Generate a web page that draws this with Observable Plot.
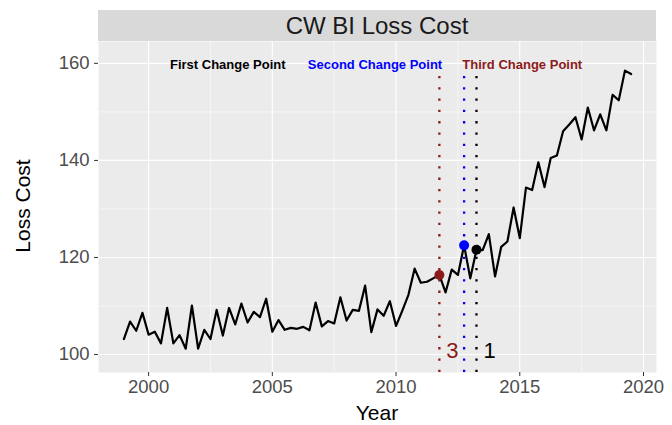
<!DOCTYPE html>
<html><head><meta charset="utf-8">
<script src="https://cdn.jsdelivr.net/npm/d3@7"></script>
<script src="https://cdn.jsdelivr.net/npm/@observablehq/plot@0.6"></script>
<style>
body{margin:0;background:#fff;font-family:"Liberation Sans",Arial,sans-serif;}
#strip{position:absolute;left:98px;top:10px;width:558px;height:31px;background:#d9d9d9;color:#1a1a1a;font-size:24px;line-height:31px;text-align:center;}
#chart{position:absolute;left:0;top:41px;}
.ttl{position:absolute;font-size:21px;color:#000;white-space:nowrap;line-height:1;}
#ylab{left:22px;top:206px;transform:translate(-50%,-50%) rotate(-90deg);}
#xlab{left:377px;top:412px;transform:translate(-50%,-50%);}
</style></head><body>
<div id="strip">CW BI Loss Cost</div>
<div id="chart"></div>
<div class="ttl" id="ylab">Loss Cost</div>
<div class="ttl" id="xlab">Year</div>
<script>
const years = [
 1999, 1999.25, 1999.5, 1999.75, 2000, 2000.25, 2000.5, 2000.75,
 2001, 2001.25, 2001.5, 2001.75, 2002, 2002.25, 2002.5, 2002.75,
 2003, 2003.25, 2003.5, 2003.75, 2004, 2004.25, 2004.5, 2004.75,
 2005, 2005.25, 2005.5, 2005.75, 2006, 2006.25, 2006.5, 2006.75,
 2007, 2007.25, 2007.5, 2007.75, 2008, 2008.25, 2008.5, 2008.75,
 2009, 2009.25, 2009.5, 2009.75, 2010, 2010.25, 2010.5, 2010.75,
 2011, 2011.25, 2011.5, 2011.75, 2012, 2012.25, 2012.5, 2012.75,
 2013, 2013.25, 2013.5, 2013.75, 2014, 2014.25, 2014.5, 2014.75,
 2015, 2015.25, 2015.5, 2015.75, 2016, 2016.25, 2016.5, 2016.75,
 2017, 2017.25, 2017.5, 2017.75, 2018, 2018.25, 2018.5, 2018.75,
 2019, 2019.25, 2019.5
];
const lossCost = [
 103.2, 106.8, 104.9, 108.6, 104.1, 104.7, 102.3, 109.6,
 102.3, 104.0, 101.2, 110.1, 101.2, 105.1, 103.2, 109.2,
 103.9, 109.6, 106.2, 110.5, 106.6, 108.8, 107.7, 111.5,
 104.7, 107.1, 105.1, 105.5, 105.3, 105.7, 105.0, 110.7,
 105.8, 106.9, 106.4, 111.8, 107.0, 109.2, 109.0, 114.2,
 104.6, 109.3, 108.0, 111.0, 105.9, 109.0, 112.3, 117.7,
 114.8, 115.0, 115.7, 116.4, 112.8, 117.5, 116.4, 122.5,
 115.7, 121.6, 121.5, 124.8, 116.1, 122.2, 123.3, 130.3,
 124.0, 134.4, 133.9, 139.6, 134.5, 140.5, 141.0, 146.0,
 147.4, 148.9, 144.3, 150.9, 146.2, 149.5, 146.2, 153.5,
 152.4, 158.5, 157.8
];
const cpYears = [2013.25, 2012.75, 2011.75];
const cpValues = [121.6, 122.5, 116.4];
const cpColors = ["black", "blue", "#8B1A1A"];
const cpNumbers = ["1", "", "3"];
const cpNames = ["First Change Point", "Second Change Point", "Third Change Point"];
const cpNameX = [2003.2, 2009.15, 2015.1];
const cpNameY = 159.7;
const xTicks = [2000, 2005, 2010, 2015, 2020];
const xMinor = [1997.5, 2002.5, 2007.5, 2012.5, 2017.5];
const yTicks = [100, 120, 140, 160];
const yMinor = [110, 130, 150];
const yDomain = [96.3, 164.5];
const xDomain = [1997.975, 2020.525];

const series = years.map((y, i) => ({year: y, value: lossCost[i]}));
const cps = cpYears.map((y, i) => ({year: y, value: cpValues[i], color: cpColors[i], num: cpNumbers[i], name: cpNames[i], nx: cpNameX[i]}));

const font = "Liberation Sans, Arial, sans-serif";
const plot = Plot.plot({
  width: 672, height: 384,
  marginTop: 0, marginLeft: 98, marginRight: 16, marginBottom: 53,
  style: {fontFamily: font, background: "white", overflow: "visible"},
  x: {domain: xDomain},
  y: {domain: yDomain},
  color: {type: "identity"},
  marks: [
    Plot.frame({fill: "#ebebeb", stroke: null}),
    Plot.ruleY(yMinor, {stroke: "white", strokeWidth: 0.55}),
    Plot.ruleX(xMinor, {stroke: "white", strokeWidth: 0.55}),
    Plot.ruleY(yTicks, {stroke: "white", strokeWidth: 1.1}),
    Plot.ruleX(xTicks, {stroke: "white", strokeWidth: 1.1}),
    Plot.ruleX(cps, {x: "year", y1: yDomain[0], y2: 158, stroke: "color", strokeWidth: 2.3, strokeDasharray: "2.3,9"}),
    Plot.line(series, {x: "year", y: "value", stroke: "black", strokeWidth: 2.2}),
    Plot.dot(cps, {x: "year", y: "value", fill: "color", r: 5, stroke: null}),
    Plot.text(cps.filter(d => d.num), {x: "year", y: 100.7, text: "num", fill: "color", textAnchor: "start", dx: 7, fontSize: 22}),
    Plot.text(cps, {x: "nx", y: cpNameY, text: "name", fill: "color", fontWeight: "bold", fontSize: 13}),
    Plot.axisX({ticks: xTicks, tickFormat: d => String(d), tickSize: 4, tickPadding: 3, fontSize: 18.5, color: "#333", label: null}),
    Plot.axisY({ticks: yTicks, tickSize: 4, tickPadding: 5, fontSize: 18.5, color: "#333", label: null})
  ]
});
plot.querySelectorAll('[aria-label="x-axis tick label"] text, [aria-label="y-axis tick label"] text').forEach(t => t.setAttribute("fill", "#4d4d4d"));
document.getElementById("chart").appendChild(plot);
</script>
</body></html>
